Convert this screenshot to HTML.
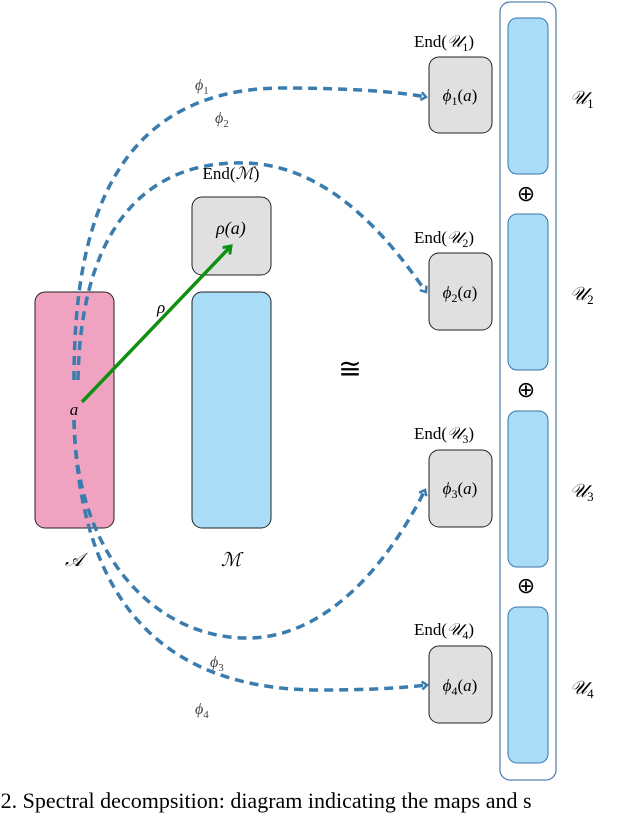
<!DOCTYPE html>
<html><head><style>
body{margin:0;background:#fff;}
svg text{font-family:"Liberation Serif",serif;}
</style></head><body>
<svg width="632" height="814" viewBox="0 0 632 814" xmlns="http://www.w3.org/2000/svg">
<defs>
<marker id="bh" markerWidth="8" markerHeight="10" refX="6" refY="5" orient="auto" markerUnits="userSpaceOnUse">
<path d="M1,1 L6,5 L1,9" fill="none" stroke="#3a7cad" stroke-width="2.5"/></marker>
<marker id="gh" markerWidth="12" markerHeight="12" refX="8" refY="6" orient="auto" markerUnits="userSpaceOnUse">
<path d="M1,1 L8,6 L1,11" fill="none" stroke="#109010" stroke-width="3"/></marker>
</defs>
<rect x="35" y="292" width="79" height="236" rx="10" fill="#efa3c0" stroke="#222" stroke-width="1"/>
<rect x="192" y="292" width="79" height="236" rx="10" fill="#a9dcf6" stroke="#222" stroke-width="1"/>
<rect x="192" y="197" width="79" height="78" rx="10" fill="#e0e0e0" stroke="#222" stroke-width="1"/>
<text x="231" y="179" font-size="17" text-anchor="middle">End(<tspan font-style="italic">ℳ</tspan>)</text>
<text x="231" y="234" font-size="18" text-anchor="middle" font-style="italic">ρ(a)</text>
<text x="74" y="566" font-size="19" text-anchor="middle" font-style="italic">𝒜</text>
<text x="231" y="566" font-size="19" text-anchor="middle" font-style="italic">ℳ</text>
<text x="74" y="415" font-size="17" text-anchor="middle" font-style="italic">a</text>
<text x="157" y="313" font-size="17" font-style="italic">ρ</text>
<text x="350" y="378" font-size="28" text-anchor="middle">≅</text>
<rect x="500" y="2" width="56" height="778" rx="10" fill="#fff" stroke="#5a82b0" stroke-width="1.3"/>
<g fill="#a9dcf6" stroke="#3a73aa" stroke-width="1">
<rect x="508" y="18" width="40" height="156" rx="9"/>
<rect x="508" y="214" width="40" height="156" rx="9"/>
<rect x="508" y="411" width="40" height="156" rx="9"/>
<rect x="508" y="607" width="40" height="156" rx="9"/>
</g>
<g font-size="22" text-anchor="middle"><text x="526" y="201">⊕</text><text x="526" y="397">⊕</text><text x="526" y="593">⊕</text></g>
<g fill="#e0e0e0" stroke="#222" stroke-width="1">
<rect x="429" y="57" width="63" height="76" rx="10"/>
<rect x="429" y="253" width="63" height="77" rx="10"/>
<rect x="429" y="450" width="63" height="77" rx="10"/>
<rect x="429" y="646" width="63" height="77" rx="10"/>
</g>
<g font-size="17" text-anchor="middle">
<text x="444" y="47">End(<tspan font-style="italic">𝒰</tspan><tspan font-size="12" dy="4">1</tspan><tspan dy="-4">)</tspan></text>
<text x="444" y="243">End(<tspan font-style="italic">𝒰</tspan><tspan font-size="12" dy="4">2</tspan><tspan dy="-4">)</tspan></text>
<text x="444" y="439">End(<tspan font-style="italic">𝒰</tspan><tspan font-size="12" dy="4">3</tspan><tspan dy="-4">)</tspan></text>
<text x="444" y="635">End(<tspan font-style="italic">𝒰</tspan><tspan font-size="12" dy="4">4</tspan><tspan dy="-4">)</tspan></text>
</g>
<g font-size="17" text-anchor="middle">
<text x="460" y="101"><tspan font-style="italic">ϕ</tspan><tspan font-size="12" dy="4">1</tspan><tspan dy="-4">(</tspan><tspan font-style="italic">a</tspan>)</text>
<text x="460" y="298"><tspan font-style="italic">ϕ</tspan><tspan font-size="12" dy="4">2</tspan><tspan dy="-4">(</tspan><tspan font-style="italic">a</tspan>)</text>
<text x="460" y="494"><tspan font-style="italic">ϕ</tspan><tspan font-size="12" dy="4">3</tspan><tspan dy="-4">(</tspan><tspan font-style="italic">a</tspan>)</text>
<text x="460" y="691"><tspan font-style="italic">ϕ</tspan><tspan font-size="12" dy="4">4</tspan><tspan dy="-4">(</tspan><tspan font-style="italic">a</tspan>)</text>
</g>
<g font-size="19" font-style="italic">
<text x="570" y="104">𝒰<tspan font-size="13" font-style="normal" dy="4">1</tspan></text>
<text x="570" y="300">𝒰<tspan font-size="13" font-style="normal" dy="4">2</tspan></text>
<text x="570" y="497">𝒰<tspan font-size="13" font-style="normal" dy="4">3</tspan></text>
<text x="570" y="694">𝒰<tspan font-size="13" font-style="normal" dy="4">4</tspan></text>
</g>
<g fill="none" stroke="#3a7cad" stroke-width="3.5" stroke-dasharray="9,6">
<path d="M74,380 C74,250 100,90 280,88 C350,88 400,92 426,97" marker-end="url(#bh)"/>
<path d="M78,380 C80,250 130,160 245,163 C330,165 390,240 426,292" marker-end="url(#bh)"/>
<path d="M74,420 C76,560 160,640 250,638 C330,636 390,560 425,490" marker-end="url(#bh)"/>
<path d="M74,420 C78,560 130,690 320,690 C370,690 400,688 427,685" marker-end="url(#bh)"/>
</g>
<g font-size="16" fill="#444" font-style="italic">
<text x="195" y="90">ϕ<tspan font-size="11" font-style="normal" dy="4">1</tspan></text>
<text x="215" y="123">ϕ<tspan font-size="11" font-style="normal" dy="4">2</tspan></text>
<text x="210" y="667">ϕ<tspan font-size="11" font-style="normal" dy="4">3</tspan></text>
<text x="195" y="714">ϕ<tspan font-size="11" font-style="normal" dy="4">4</tspan></text>
</g>
<line x1="82" y1="402" x2="231" y2="246" stroke="#109010" stroke-width="3.5" marker-end="url(#gh)"/>
<text x="-22" y="808" font-size="22">re 2. Spectral decompsition: diagram indicating the maps and s</text>
</svg>
</body></html>
